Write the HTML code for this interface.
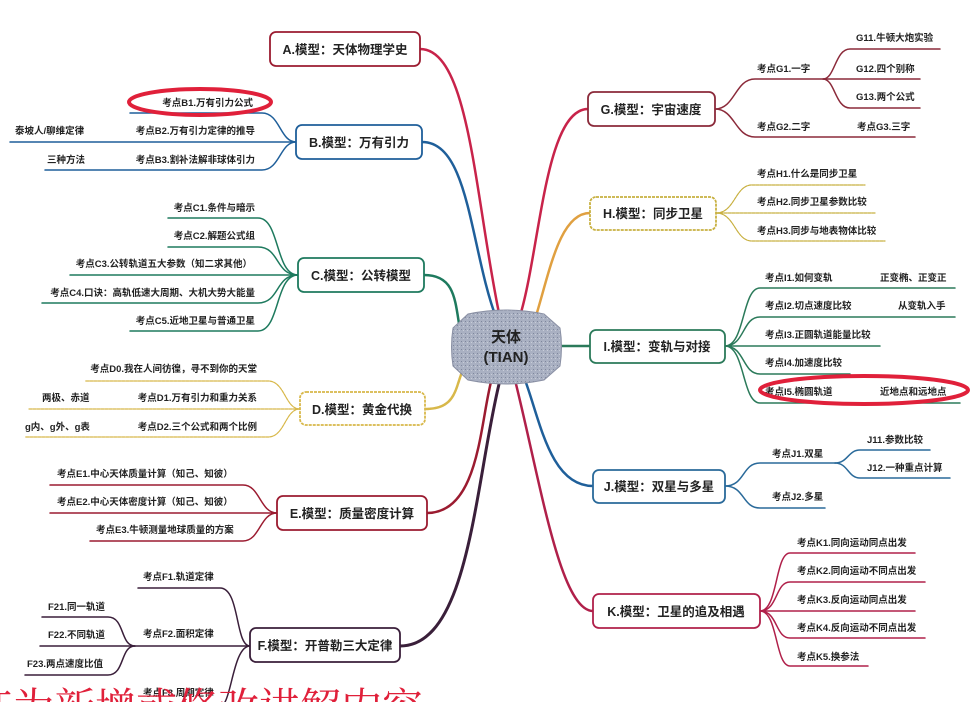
<!DOCTYPE html>
<html><head><meta charset="utf-8"><style>
html,body{margin:0;padding:0;background:#fff;width:973px;height:702px;overflow:hidden}
svg{display:block}
text{font-family:"Liberation Sans","Noto Sans CJK SC",sans-serif;font-weight:bold;fill:#222}
.l{font-size:9.5px}
.n{font-size:12.5px;fill:#222}
.big{font-family:"Liberation Serif","Noto Serif CJK SC",serif;font-size:41px;fill:#e0203a;font-weight:normal}
</style></head><body>
<svg width="973" height="702" viewBox="0 0 973 702" xmlns="http://www.w3.org/2000/svg">
<defs>
<pattern id="tx" width="4" height="4" patternUnits="userSpaceOnUse">
<rect width="4" height="4" fill="#a9b0c2"/><rect width="1" height="1" x="1" y="1" fill="#7f879c"/><rect width="1" height="1" x="3" y="2" fill="#c8cdd8"/>
</pattern>
</defs>
<g fill="none" stroke-width="2.5" stroke-linecap="round">
<path d="M420,49 C470,49 475,200 500,318" stroke="#c8234a"/>
<path d="M422,142 C470,142 470,250 497,320" stroke="#1f5f9a"/>
<path d="M424,275 C455,275 455,300 460,330" stroke="#1e7a5e"/>
<path d="M425,409 C455,409 455,390 462,372" stroke="#d8b84a" stroke-dasharray="4,1"/>
<path d="M427,513 C480,513 480,420 492,378" stroke="#9b1b30"/>
<path d="M400,646 C470,646 475,480 500,380" stroke="#3a1f3a" stroke-width="3"/>
<path d="M588,109 C545,109 540,250 520,316" stroke="#c8234a"/>
<path d="M590,213 C560,213 550,270 536,316" stroke="#e0a040"/>
<path d="M590,346 L562,346" stroke="#2b7a5a"/>
<path d="M593,486 C550,486 540,420 525,380" stroke="#1f5f9a"/>
<path d="M593,611 C560,611 540,480 515,380" stroke="#b0204a"/>
<g stroke="#1f5f9a" stroke-width="1.5">
<path d="M296,142 C280,142 280,113 262,113 L130,113"/>
<path d="M296,142 L10,142"/>
<path d="M296,142 C280,142 280,170 262,170 L45,170"/>
</g>
<g stroke="#1e7a5e" stroke-width="1.5">
<path d="M298,275 C275,275 280,218 258,218 L168,218"/>
<path d="M298,275 C275,275 280,247 258,247 L168,247"/>
<path d="M298,275 L70,275"/>
<path d="M298,275 C275,275 280,303 258,303 L42,303"/>
<path d="M298,275 C275,275 280,331 258,331 L130,331"/>
</g>
<g stroke="#d8b84a" stroke-width="1.2" stroke-dasharray="3,1">
<path d="M300,409 C285,409 285,381 268,381 L85,381"/>
<path d="M300,409 L28,409"/>
<path d="M300,409 C285,409 285,437 268,437 L25,437"/>
</g>
<g stroke="#9b1b30" stroke-width="1.5">
<path d="M277,513 C260,513 260,485 243,485 L50,485"/>
<path d="M277,513 L50,513"/>
<path d="M277,513 C260,513 260,541 243,541 L90,541"/>
</g>
<g stroke="#3a1f3a" stroke-width="1.5">
<path d="M250,646 C235,646 240,588 220,588 L138,588"/>
<path d="M250,646 L40,646"/>
<path d="M250,646 C235,646 232,690 225,702"/>
<path d="M135,646 C120,646 125,617 108,617 L42,617"/>
<path d="M135,646 C120,646 125,675 108,675 L25,675"/>
</g>
<g stroke="#8b2a3a" stroke-width="1.5">
<path d="M715,109 C735,109 735,79 755,79 L920,79"/>
<path d="M715,109 C735,109 735,137 755,137 L915,137"/>
<path d="M823,79 C835,79 835,49 850,49 L940,49"/>
<path d="M823,79 C835,79 835,108 850,108 L920,108"/>
</g>
<g stroke="#c8b040" stroke-width="1.2" stroke-dasharray="3,1">
<path d="M716,213 C735,213 735,185 752,185 L865,185"/>
<path d="M716,213 L875,213"/>
<path d="M716,213 C735,213 735,241 752,241 L885,241"/>
</g>
<g stroke="#2b7a5a" stroke-width="1.5">
<path d="M725,346 C745,346 742,288 760,288 L955,288"/>
<path d="M725,346 C745,346 742,317 760,317 L955,317"/>
<path d="M725,346 L880,346"/>
<path d="M725,346 C745,346 742,374 760,374 L850,374"/>
<path d="M725,346 C745,346 742,403 760,403 L960,403"/>
</g>
<g stroke="#2a6a9a" stroke-width="1.5">
<path d="M725,486 C745,486 742,463 760,463 L835,463"/>
<path d="M725,486 C745,486 742,508 760,508 L825,508"/>
<path d="M835,463 C848,463 848,450 860,450 L930,450"/>
<path d="M835,463 C848,463 848,478 860,478 L950,478"/>
</g>
<g stroke="#b0204a" stroke-width="1.5">
<path d="M760,611 C778,611 775,553 790,553 L915,553"/>
<path d="M760,611 C778,611 775,582 790,582 L925,582"/>
<path d="M760,611 L915,611"/>
<path d="M760,611 C778,611 775,638 790,638 L925,638"/>
<path d="M760,611 C778,611 775,666 790,666 L868,666"/>
</g>
</g>
<g fill="#fff" stroke-width="1.8">
<rect x="270" y="32" width="150" height="34" rx="6" stroke="#9b1b30"/>
<rect x="296" y="125" width="126" height="34" rx="6" stroke="#1f5f9a"/>
<rect x="298" y="258" width="126" height="34" rx="6" stroke="#1e7a5e"/>
<rect x="300" y="392" width="125" height="33" rx="6" stroke="#d8b84a" stroke-dasharray="3,1"/>
<rect x="277" y="496" width="150" height="34" rx="6" stroke="#9b1b30"/>
<rect x="250" y="628" width="150" height="34" rx="6" stroke="#3a1f3a"/>
<rect x="588" y="92" width="127" height="34" rx="6" stroke="#8b2a3a"/>
<rect x="590" y="197" width="126" height="33" rx="6" stroke="#c8b040" stroke-dasharray="3,1"/>
<rect x="590" y="330" width="135" height="33" rx="6" stroke="#2b7a5a"/>
<rect x="593" y="470" width="132" height="33" rx="6" stroke="#2a6a9a"/>
<rect x="593" y="594" width="167" height="34" rx="6" stroke="#b0204a"/>
</g>
<path d="M468,314 Q506,306 544,314 L560,328 Q563,347 560,366 L544,380 Q506,388 468,380 L453,366 Q450,347 453,328 Z" fill="url(#tx)" stroke="#8a90a4"/>
<text x="506" y="342" text-anchor="middle" style="font-size:15px">天体</text>
<text x="506" y="362" text-anchor="middle" style="font-size:15px">(TIAN)</text>
<text class="n" x="345" y="54" text-anchor="middle">A.模型：天体物理学史</text>
<text class="n" x="359" y="147" text-anchor="middle">B.模型：万有引力</text>
<text class="n" x="361" y="280" text-anchor="middle">C.模型：公转模型</text>
<text class="n" x="362" y="414" text-anchor="middle">D.模型：黄金代换</text>
<text class="n" x="352" y="518" text-anchor="middle">E.模型：质量密度计算</text>
<text class="n" x="325" y="650" text-anchor="middle">F.模型：开普勒三大定律</text>
<text class="n" x="651" y="114" text-anchor="middle">G.模型：宇宙速度</text>
<text class="n" x="653" y="218" text-anchor="middle">H.模型：同步卫星</text>
<text class="n" x="657" y="351" text-anchor="middle">I.模型：变轨与对接</text>
<text class="n" x="659" y="491" text-anchor="middle">J.模型：双星与多星</text>
<text class="n" x="676" y="616" text-anchor="middle">K.模型：卫星的追及相遇</text>
<g>
<text class="l" x="253" y="106" text-anchor="end">考点B1.万有引力公式</text>
<text class="l" x="255" y="134" text-anchor="end">考点B2.万有引力定律的推导</text>
<text class="l" x="15" y="134">泰坡人/聊维定律</text>
<text class="l" x="255" y="163" text-anchor="end">考点B3.割补法解非球体引力</text>
<text class="l" x="47" y="163">三种方法</text>
<text class="l" x="255" y="211" text-anchor="end">考点C1.条件与暗示</text>
<text class="l" x="255" y="239" text-anchor="end">考点C2.解题公式组</text>
<text class="l" x="252" y="267" text-anchor="end">考点C3.公转轨道五大参数（知二求其他）</text>
<text class="l" x="255" y="296" text-anchor="end">考点C4.口诀：高轨低速大周期、大机大势大能量</text>
<text class="l" x="255" y="324" text-anchor="end">考点C5.近地卫星与普通卫星</text>
<text class="l" x="257" y="372" text-anchor="end">考点D0.我在人间彷徨，寻不到你的天堂</text>
<text class="l" x="257" y="401" text-anchor="end">考点D1.万有引力和重力关系</text>
<text class="l" x="42" y="401">两极、赤道</text>
<text class="l" x="257" y="430" text-anchor="end">考点D2.三个公式和两个比例</text>
<text class="l" x="25" y="430">g内、g外、g表</text>
<text class="l" x="57" y="477">考点E1.中心天体质量计算（知己、知彼）</text>
<text class="l" x="57" y="505">考点E2.中心天体密度计算（知己、知彼）</text>
<text class="l" x="96" y="533">考点E3.牛顿测量地球质量的方案</text>
<text class="l" x="143" y="580">考点F1.轨道定律</text>
<text class="l" x="143" y="637">考点F2.面积定律</text>
<text class="l" x="48" y="610">F21.同一轨道</text>
<text class="l" x="48" y="638">F22.不同轨道</text>
<text class="l" x="27" y="667">F23.两点速度比值</text>
<text class="l" x="143" y="696">考点F3.周期定律</text>
<text class="l" x="757" y="72">考点G1.一字</text>
<text class="l" x="856" y="41">G11.牛顿大炮实验</text>
<text class="l" x="856" y="72">G12.四个别称</text>
<text class="l" x="856" y="100">G13.两个公式</text>
<text class="l" x="757" y="130">考点G2.二字</text>
<text class="l" x="857" y="130">考点G3.三字</text>
<text class="l" x="757" y="177">考点H1.什么是同步卫星</text>
<text class="l" x="757" y="205">考点H2.同步卫星参数比较</text>
<text class="l" x="757" y="234">考点H3.同步与地表物体比较</text>
<text class="l" x="765" y="281">考点I1.如何变轨</text>
<text class="l" x="880" y="281">正变椭、正变正</text>
<text class="l" x="765" y="309">考点I2.切点速度比较</text>
<text class="l" x="898" y="309">从变轨入手</text>
<text class="l" x="765" y="338">考点I3.正圆轨道能量比较</text>
<text class="l" x="765" y="366">考点I4.加速度比较</text>
<text class="l" x="765" y="395">考点I5.椭圆轨道</text>
<text class="l" x="880" y="395">近地点和远地点</text>
<text class="l" x="772" y="457">考点J1.双星</text>
<text class="l" x="867" y="443">J11.参数比较</text>
<text class="l" x="867" y="471">J12.一种重点计算</text>
<text class="l" x="772" y="500">考点J2.多星</text>
<text class="l" x="797" y="546">考点K1.同向运动同点出发</text>
<text class="l" x="797" y="574">考点K2.同向运动不同点出发</text>
<text class="l" x="797" y="603">考点K3.反向运动同点出发</text>
<text class="l" x="797" y="631">考点K4.反向运动不同点出发</text>
<text class="l" x="797" y="660">考点K5.换参法</text>
</g>
<ellipse cx="200" cy="102" rx="71" ry="13" fill="none" stroke="#e0203a" stroke-width="4"/>
<ellipse cx="864" cy="390" rx="104" ry="14" fill="none" stroke="#e0203a" stroke-width="4"/>
<text class="big" x="-28" y="722">红为新增或修改讲解内容</text>
</svg>
</body></html>
